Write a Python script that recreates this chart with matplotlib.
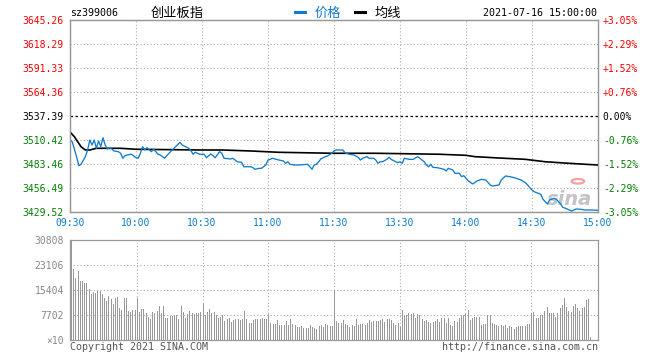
import matplotlib
matplotlib.use("Agg")
import matplotlib.pyplot as plt
from matplotlib.lines import Line2D
from matplotlib.patches import Circle

# ---------------- data ----------------
prev_close = 3537.39
price_ticks = [3429.52, 3456.49, 3483.46, 3510.42, 3537.39, 3564.36, 3591.33, 3618.29, 3645.26]
pct_labels = ["-3.05%", "-2.29%", "-1.52%", "-0.76%", "0.00%", "+0.76%", "+1.52%", "+2.29%", "+3.05%"]
time_labels = ["09:30", "10:00", "10:30", "11:00", "11:30", "13:30", "14:00", "14:30", "15:00"]
time_pos = [0, 30, 60, 90, 120, 150, 180, 210, 240]

price_min = [0, 1, 3, 4, 5, 7, 8, 9, 10, 11, 12, 13, 14, 15, 16, 17, 18, 19, 20, 22, 23, 24, 25, 26, 28,
             30, 31, 32, 33, 34, 35, 37, 38, 40, 41, 43, 44, 46, 48, 50, 51, 54, 55, 56, 57, 59, 61,
             62, 64, 65, 66, 68, 69, 70, 73, 74, 75, 76, 78, 79, 82, 83, 84, 86, 87, 89, 90, 91, 92,
             95, 97, 98, 99, 100, 102, 104, 108, 109, 110, 111, 112, 113, 114, 116, 117, 119, 120,
             121, 124, 125, 127, 129, 131, 132, 133, 135, 136, 138, 139, 140, 141, 142, 144, 145,
             146, 148, 149, 150, 151, 152, 154, 156, 158, 159, 161, 162, 163, 164, 165, 167, 170,
             171, 172, 174, 175, 177, 178, 179, 181, 183, 185, 187, 189, 191, 192, 195, 196, 198,
             200, 202, 205, 207, 208, 210, 211, 214, 215, 217, 218, 220, 221, 223, 224, 226, 228,
             230, 232, 234, 237, 240]
price_val = [3510.4, 3508.5, 3491.7, 3481.5, 3483.1, 3491.7, 3499.2, 3510.4, 3504.8, 3510.4, 3501.1,
             3509.3, 3502.9, 3513.0, 3504.8, 3500.3, 3501.8, 3500.3, 3498.1, 3497.3, 3495.5, 3489.9,
             3492.8, 3493.6, 3494.4, 3490.5, 3489.9, 3495.5, 3502.9, 3499.2, 3501.8, 3497.3, 3500.3,
             3494.4, 3493.6, 3489.9, 3492.8, 3498.1, 3502.9, 3507.8, 3504.8, 3501.1, 3498.1, 3494.4,
             3496.6, 3494.4, 3494.4, 3490.5, 3494.7, 3492.8, 3490.5, 3497.3, 3495.5, 3489.9, 3489.1,
             3489.9, 3487.9, 3486.0, 3485.4, 3480.4, 3480.4, 3479.7, 3477.5, 3478.6, 3478.6, 3482.3,
             3487.9, 3488.7, 3489.9, 3487.9, 3486.8, 3484.2, 3486.0, 3483.1, 3482.3, 3482.3, 3483.1,
             3480.4, 3477.5, 3482.3, 3483.1, 3486.0, 3489.1, 3491.7, 3492.4, 3495.5, 3498.1, 3499.2,
             3499.2, 3496.1, 3494.4, 3493.6, 3491.0, 3487.9, 3489.9, 3491.7, 3489.9, 3489.9, 3487.9,
             3484.2, 3486.0, 3486.0, 3488.7, 3491.0, 3488.7, 3486.0, 3484.9, 3486.0, 3484.2, 3489.9,
             3488.7, 3488.7, 3491.7, 3489.9, 3486.0, 3482.3, 3480.4, 3483.1, 3479.7, 3479.3, 3477.5,
             3475.6, 3478.6, 3476.7, 3473.0, 3473.0, 3469.2, 3470.3, 3464.7, 3461.0, 3464.3, 3466.2,
             3465.5, 3459.9, 3458.7, 3459.9, 3465.5, 3470.0, 3469.2, 3468.0, 3465.5, 3462.4, 3459.9,
             3454.2, 3452.3, 3449.4, 3443.8, 3438.5, 3443.0, 3444.9, 3444.1, 3438.5, 3434.8, 3432.9,
             3430.6, 3432.9, 3432.6, 3431.8, 3431.8, 3431.4]

avg_min = [0, 2, 5, 7, 9, 12, 23, 30, 59, 69, 82, 95, 120, 139, 168, 180, 184, 195, 207, 216, 227, 240]
avg_val = [3519.4, 3514.1, 3502.9, 3499.2, 3499.2, 3501.1, 3501.1, 3500.0, 3499.2, 3499.2, 3498.1,
           3496.6, 3495.5, 3495.5, 3494.4, 3493.2, 3491.7, 3490.2, 3488.7, 3486.0, 3484.2, 3482.3]

vol_ticks = [0, 7702, 15404, 23106, 30808]
vol_labels = ["\u00d710", "7702", "15404", "23106", "30808"]
volume = [30808, 21900, 19000, 21260, 18180, 18180, 17560, 17560, 15610, 14170,
          14890, 14580, 15100, 15100, 14270, 13040, 11910, 13660, 12630, 11090,
          13040, 13250, 9760, 9140, 12940, 12940, 8830, 8630, 9140, 9350,
          12840, 8520, 9550, 9550, 8320, 6980, 6370, 8630, 8320, 8930,
          10470, 8420, 10470, 6880, 6880, 7500, 7290, 7700, 7600, 6570,
          10370, 8730, 6680, 7910, 8830, 8320, 8110, 8320, 8220, 8630,
          10990, 7600, 8630, 9450, 8320, 8730, 7700, 6880, 7190, 7600,
          5850, 6370, 6880, 5650, 6160, 6370, 6370, 6160, 6370, 8930,
          6570, 5340, 5340, 6160, 6370, 6570, 6370, 6680, 6370, 6370,
          7910, 5240, 5030, 4830, 6160, 4720, 4520, 4620, 5960, 4620,
          6370, 4830, 4620, 4110, 4110, 4310, 3590, 3800, 3800, 4620,
          4110, 3800, 3290, 4310, 4620, 4110, 4830, 4620, 4310, 4310,
          15100, 5850, 5340, 5340, 6160, 4830, 4620, 4010, 4620, 4420,
          6370, 4620, 4830, 4830, 4720, 5130, 6160, 5650, 5750, 5850,
          5850, 6060, 6370, 5550, 6370, 6570, 6160, 5130, 4620, 5130,
          4110, 9240, 7390, 7600, 8220, 8010, 8420, 6680, 7910, 7600,
          6370, 5960, 6160, 5650, 5130, 5550, 5960, 6370, 5550, 6780,
          6780, 5340, 6680, 4720, 4310, 5850, 5650, 6680, 7700, 7700,
          8010, 9240, 6160, 6680, 6980, 6980, 6980, 4720, 4830, 4930,
          7700, 7600, 5340, 4830, 4520, 4310, 4520, 4310, 4520, 3800,
          4210, 4110, 3490, 4110, 4310, 4310, 4310, 4310, 4930, 4830,
          8220, 8630, 6680, 6680, 7700, 7700, 8930, 10060, 8220, 8420,
          8220, 7190, 8220, 9760, 10780, 12840, 10060, 8830, 8730, 10470,
          11090, 9860, 8830, 9960, 10270, 12320, 12530, 1030, 0, 0, 0]

# ---------------- styling ----------------
W, H = 660, 360
MONO = "DejaVu Sans Mono"
CJK = ["Noto Sans CJK SC", "DejaVu Sans"]
RED, GREEN, BLACK = "#ff0000", "#008000", "#000000"
BLUE = "#0f7ccf"
GRID = "#aaaaaa"
BORDER = "#999999"

fig = plt.figure(figsize=(W / 100, H / 100), dpi=100)
fig.patch.set_facecolor("white")


def fx(px):
    return px / W


def fy(py):
    return 1 - py / H


ax = fig.add_axes([fx(70), fy(212), fx(598) - fx(70), fy(20) - fy(212)])
axv = fig.add_axes([fx(70), fy(340), fx(598) - fx(70), fy(240) - fy(340)])

# --- price panel ---
ax.set_xlim(0, 240)
ax.set_ylim(price_ticks[0], price_ticks[-1])
for t in time_pos[1:-1]:
    ax.axvline(t, color=GRID, lw=0.8, ls=(0, (1, 2)), zorder=1)
for p in price_ticks[1:-1]:
    if abs(p - prev_close) > 0.01:
        ax.axhline(p, color=GRID, lw=0.8, ls=(0, (1, 2)), zorder=1)
ax.axhline(prev_close, color=BLACK, lw=0.9, ls=(0, (2, 2)), zorder=2)

# sina watermark
ax.text(0.945, 0.065, "sina", transform=ax.transAxes, fontsize=14, fontstyle="italic",
        fontweight="bold", color="#c4c4c4", ha="center", va="center", zorder=1)
ax.add_patch(Circle((0.962, 0.16), 0.012, transform=ax.transAxes, facecolor="none",
                    edgecolor="#f4a0a0", lw=1.6, zorder=1))

ax.plot(avg_min, avg_val, color=BLACK, lw=1.2, zorder=3)
ax.plot(price_min, price_val, color=BLUE, lw=0.95, zorder=4)

ax.set_xticks(time_pos)
ax.set_xticklabels(time_labels, fontfamily=MONO, fontsize=7, color=BLUE)
ax.set_yticks(price_ticks)
ax.set_yticklabels([f"{p:.2f}" for p in price_ticks], fontfamily=MONO, fontsize=7)
for lbl, p in zip(ax.get_yticklabels(), price_ticks):
    lbl.set_color(RED if p > prev_close + 0.01 else (GREEN if p < prev_close - 0.01 else BLACK))
ax.tick_params(axis="both", length=0)
ax.tick_params(axis="y", pad=4.5)
ax.tick_params(axis="x", pad=4)

ax2 = ax.twinx()
ax2.set_ylim(ax.get_ylim())
ax2.set_yticks(price_ticks)
ax2.set_yticklabels(pct_labels, fontfamily=MONO, fontsize=7)
for lbl, s in zip(ax2.get_yticklabels(), pct_labels):
    lbl.set_color(RED if s.startswith("+") else (GREEN if s.startswith("-") else BLACK))
ax2.tick_params(axis="y", length=0, pad=3.5)

for a in (ax, ax2):
    for sp in a.spines.values():
        sp.set_color(BORDER)
        sp.set_linewidth(0.9)

# --- volume panel ---
axv.set_xlim(-0.5, 240.5)
axv.set_ylim(0, vol_ticks[-1])
for t in time_pos[1:-1]:
    axv.axvline(t, color=GRID, lw=0.8, ls=(0, (1, 2)), zorder=1)
for v in vol_ticks[1:-1]:
    axv.axhline(v, color=GRID, lw=0.8, ls=(0, (1, 2)), zorder=1)
axv.vlines(range(len(volume)), 0, volume, colors="#999999", linewidth=0.72, zorder=2,
           antialiased=False)
axv.set_xticks([])
axv.set_yticks(vol_ticks)
axv.set_yticklabels(vol_labels, fontfamily=MONO, fontsize=7, color="#888888")
axv.tick_params(axis="y", length=0, pad=4.5)
for sp in axv.spines.values():
    sp.set_color(BORDER)
    sp.set_linewidth(0.9)

# --- header ---
fig.text(fx(70), fy(13), "sz399006", fontfamily=MONO, fontsize=7.2, color=BLACK, va="center", ha="left")
fig.text(fx(177), fy(13), "创业板指", family=CJK, fontsize=9.5, color=BLACK, va="center", ha="center")
fig.add_artist(Line2D([fx(295), fx(305)], [fy(12), fy(12)], color=BLUE, lw=2.2))
fig.text(fx(315), fy(13), "价格", family=CJK, fontsize=9.5, color=BLUE, va="center", ha="left")
fig.add_artist(Line2D([fx(355), fx(365)], [fy(12), fy(12)], color=BLACK, lw=2.2))
fig.text(fx(375), fy(13), "均线", family=CJK, fontsize=9.5, color=BLACK, va="center", ha="left")
fig.text(fx(597), fy(13), "2021-07-16 15:00:00", fontfamily=MONO, fontsize=7.2, color=BLACK,
         va="center", ha="right")

# --- footer ---
fig.text(fx(70), fy(347), "Copyright 2021 SINA.COM", fontfamily=MONO, fontsize=7.2, color="#555555",
         va="center", ha="left")
fig.text(fx(598), fy(347), "http://finance.sina.com.cn", fontfamily=MONO, fontsize=7.2, color="#555555",
         va="center", ha="right")

fig.savefig("out.png", dpi=100, facecolor="white")
